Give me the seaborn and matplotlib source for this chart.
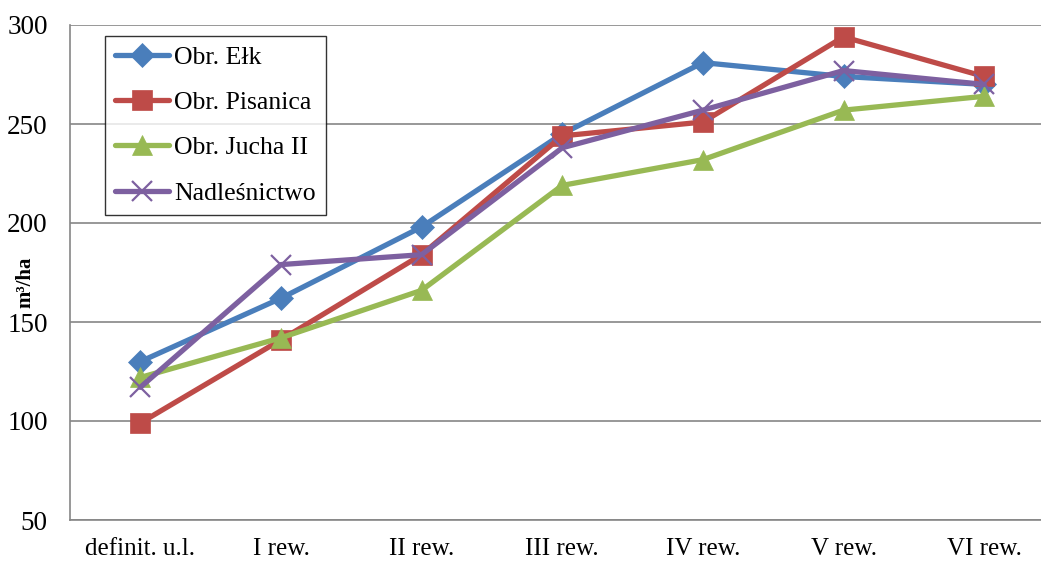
import matplotlib
matplotlib.use("Agg")
import matplotlib.pyplot as plt
import seaborn as sns
import pandas as pd

categories = ["definit. u.l.", "I rew.", "II rew.", "III rew.", "IV rew.", "V rew.", "VI rew."]
series_names = ["Obr. Ełk", "Obr. Pisanica", "Obr. Jucha II", "Nadleśnictwo"]
elk = [130, 162, 198, 245, 281, 274, 270]
pisanica = [99, 141, 184, 244, 251, 294, 274]
jucha = [122, 142, 166, 219, 232, 257, 264]
nadlesnictwo = [117, 179, 184, 238, 257, 277, 270]
y_ticks = [50, 100, 150, 200, 250, 300]
y_label = "m³/ha"

colors = ["#4A7EBB", "#BE4B48", "#98B954", "#7D60A0"]
markers = ["D", "s", "^", "x"]
msizes = [12, 14, 15, 15]

sns.set_theme(style="white")
plt.rcParams["font.family"] = ["Liberation Serif", "DejaVu Serif"]
plt.rcParams["text.color"] = "black"
plt.rcParams["xtick.color"] = "black"
plt.rcParams["ytick.color"] = "black"
plt.rcParams["axes.labelcolor"] = "black"

rows = []
for name, vals in zip(series_names, [elk, pisanica, jucha, nadlesnictwo]):
    for i, (c, v) in enumerate(zip(categories, vals)):
        rows.append({"cat": i, "label": c, "value": v, "series": name})
df = pd.DataFrame(rows)

fig = plt.figure(figsize=(10.41, 5.61), dpi=100)
ax = fig.add_axes([70 / 1041, 41 / 561, (1054.5 - 70) / 1041, 495 / 561])

for name, col, mk, ms in zip(series_names, colors, markers, msizes):
    sub = df[df["series"] == name]
    sns.lineplot(data=sub, x="cat", y="value", ax=ax, color=col, linewidth=3.8,
                 marker=mk, markersize=ms, markeredgecolor=col,
                 markeredgewidth=1.6 if mk == "x" else 0.5,
                 label=name, legend=False)

ax.set_xlim(-0.5, 6.5)
ax.set_ylim(50, 300)
ax.set_yticks(y_ticks)
ax.set_xticks(range(len(categories)))
ax.set_xticklabels(categories, fontsize=18)
ax.set_yticklabels([str(t) for t in y_ticks], fontsize=19.5)
ax.tick_params(axis="x", length=0, pad=13)
ax.tick_params(axis="y", length=0, pad=16)
ax.set_xlabel("")
ax.set_ylabel(y_label, fontsize=15, fontweight="bold")
ax.yaxis.set_label_coords(-35 / 984.5, 0.48)

ax.yaxis.grid(True, color="#868686", linewidth=1.2)
ax.xaxis.grid(False)
ax.set_axisbelow(True)
for s in ["top", "right"]:
    ax.spines[s].set_visible(False)
for s in ["left", "bottom"]:
    ax.spines[s].set_color("#868686")
    ax.spines[s].set_linewidth(1.2)

leg = ax.legend(loc="upper left", bbox_to_anchor=(35 / 984.5, 1 - 11 / 495),
                fontsize=18.5, frameon=True, fancybox=False, edgecolor="black",
                handlelength=2.1, handletextpad=0.2, labelspacing=0.86,
                borderpad=0.4, borderaxespad=0)
leg.get_frame().set_linewidth(1.0)

fig.savefig("out.png", dpi=100)
